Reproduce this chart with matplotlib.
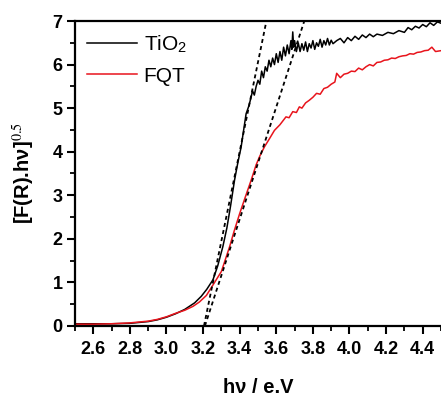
import matplotlib
matplotlib.use("Agg")
import matplotlib.pyplot as plt
from matplotlib.ticker import MultipleLocator

plt.rcParams['font.family'] = ['Liberation Sans', 'DejaVu Sans']
plt.rcParams['mathtext.fontset'] = 'stix'

# TiO2 curve
tio2_x = [2.50, 2.60, 2.70, 2.80, 2.90, 2.95, 3.00, 3.05, 3.10, 3.154, 3.19, 3.22,
          3.254, 3.28, 3.308, 3.33, 3.35, 3.372, 3.39, 3.408, 3.42, 3.435, 3.45, 3.463,
          3.47, 3.48, 3.49, 3.50, 3.51, 3.52, 3.53, 3.54, 3.55, 3.56, 3.57, 3.58,
          3.59, 3.60, 3.61, 3.62, 3.63, 3.64, 3.65, 3.66, 3.67, 3.68, 3.685, 3.69,
          3.695, 3.70, 3.71, 3.72, 3.73, 3.74, 3.75, 3.76, 3.77, 3.78, 3.79, 3.80,
          3.81, 3.82, 3.83, 3.84, 3.85, 3.86, 3.87, 3.88, 3.89, 3.90, 3.91, 3.93,
          3.95, 3.97, 3.99, 4.01, 4.03, 4.05, 4.07, 4.09, 4.11, 4.13, 4.15, 4.18,
          4.21, 4.24, 4.27, 4.30, 4.32, 4.34, 4.36, 4.38, 4.40, 4.42, 4.44, 4.46,
          4.48, 4.50]
tio2_y = [0.05, 0.05, 0.05, 0.06, 0.10, 0.14, 0.20, 0.28, 0.38, 0.53, 0.68, 0.84,
          1.06, 1.38, 1.82, 2.25, 2.75, 3.35, 3.75, 4.11, 4.45, 4.87, 5.05, 5.26,
          5.40, 5.30, 5.50, 5.64, 5.55, 5.85, 5.70, 5.95, 5.85, 6.10, 5.95, 6.15,
          6.00, 6.25, 6.05, 6.30, 6.10, 6.40, 6.20, 6.45, 6.25, 6.55, 6.35, 6.75,
          6.40, 6.55, 6.30, 6.50, 6.30, 6.48, 6.33, 6.52, 6.30, 6.48, 6.38, 6.55,
          6.35, 6.50, 6.42, 6.58, 6.40, 6.55, 6.45, 6.60, 6.45, 6.56, 6.48, 6.55,
          6.60, 6.50, 6.62, 6.55, 6.65, 6.58, 6.68, 6.62, 6.70, 6.64, 6.70, 6.67,
          6.74, 6.71, 6.78, 6.74, 6.85, 6.80, 6.88, 6.84, 6.92, 6.87, 6.96, 6.90,
          6.98, 6.95]

# FQT curve
fqt_x = [2.50, 2.60, 2.70, 2.80, 2.90, 2.95, 3.00, 3.05, 3.10, 3.145, 3.18, 3.218,
         3.26, 3.30, 3.345, 3.37, 3.40, 3.43, 3.463, 3.49, 3.51, 3.535, 3.56, 3.59,
         3.62, 3.653, 3.67, 3.69, 3.71, 3.726, 3.74, 3.76, 3.78, 3.80, 3.82, 3.84,
         3.86, 3.88, 3.90, 3.92, 3.93, 3.95, 3.97, 3.99, 4.01, 4.03, 4.05, 4.07,
         4.09, 4.11, 4.13, 4.15, 4.17, 4.19, 4.21, 4.23, 4.25, 4.27, 4.29, 4.31,
         4.33, 4.35, 4.37, 4.39, 4.41, 4.43, 4.45, 4.47, 4.50]
fqt_y = [0.04, 0.04, 0.05, 0.07, 0.11, 0.15, 0.21, 0.29, 0.36, 0.45, 0.55, 0.70,
         0.98, 1.25, 1.82, 2.18, 2.58, 2.95, 3.35, 3.70, 3.90, 4.11, 4.28, 4.49,
         4.62, 4.80, 4.78, 4.92, 4.90, 5.03, 5.00, 5.12, 5.18, 5.25, 5.34, 5.32,
         5.45, 5.48, 5.55, 5.60, 5.80, 5.70, 5.78, 5.80, 5.85, 5.84, 5.92, 5.88,
         5.95, 6.00, 5.97, 6.05, 6.06, 6.10, 6.11, 6.15, 6.14, 6.18, 6.20, 6.21,
         6.25, 6.24, 6.28, 6.29, 6.32, 6.33, 6.40, 6.30, 6.32]

# tangent lines used for the band gap
tan_tio2_x = [3.205, 3.546]
tan_fqt_x = [3.21, 3.753]
tan_y = [0, 7]

fig = plt.figure(figsize=(4.41, 3.97), dpi=100)
ax = fig.add_axes([0.170, 0.179, 0.830, 0.768])

ax.plot(tio2_x, tio2_y, color='black', lw=1.1, label='TiO$_\\mathregular{2}$')
ax.plot(fqt_x, fqt_y, color='#e8141c', lw=1.1, label='FQT')
ax.plot(tan_tio2_x, tan_y, color='black', lw=1.3, ls=(0, (2.2, 1.8)))
ax.plot(tan_fqt_x, tan_y, color='black', lw=1.3, ls=(0, (2.2, 1.8)))

ax.set_xlim(2.5, 4.5)
ax.set_ylim(0, 7)
ax.xaxis.set_minor_locator(MultipleLocator(0.1))
ax.yaxis.set_major_locator(MultipleLocator(1))
ax.yaxis.set_minor_locator(MultipleLocator(0.5))
ax.set_xticks([2.6, 2.8, 3.0, 3.2, 3.4, 3.6, 3.8, 4.0, 4.2, 4.4])
ax.set_xticklabels(['2.6', '2.8', '3.0', '3.2', '3.4', '3.6', '3.8', '4.0', '4.2', '4.4'])

ax.spines['right'].set_visible(False)
for s in ['left', 'bottom', 'top']:
    ax.spines[s].set_linewidth(1.6)
ax.tick_params(which='major', direction='out', length=6, width=1.5,
               labelsize=13, pad=3, top=False, right=False)
ax.tick_params(axis='x', which='major', pad=5)
ax.tick_params(which='minor', direction='out', length=3.5, width=1.3,
               top=False, right=False)
for lab in ax.get_xticklabels() + ax.get_yticklabels():
    lab.set_fontweight('bold')

ax.set_xlabel('h\u03bd / e.V', fontsize=14.5, fontweight='bold', labelpad=14)
ax.set_ylabel('[F(R).h\u03bd]$^{0.5}$', fontsize=14.5,
              fontweight='bold', labelpad=11)

ax.legend(loc='upper left', frameon=False, fontsize=15, handlelength=2.4,
          handletextpad=0.3, labelspacing=0.55, borderaxespad=0.3,
          borderpad=0.3)

fig.savefig('out.png', dpi=100)
